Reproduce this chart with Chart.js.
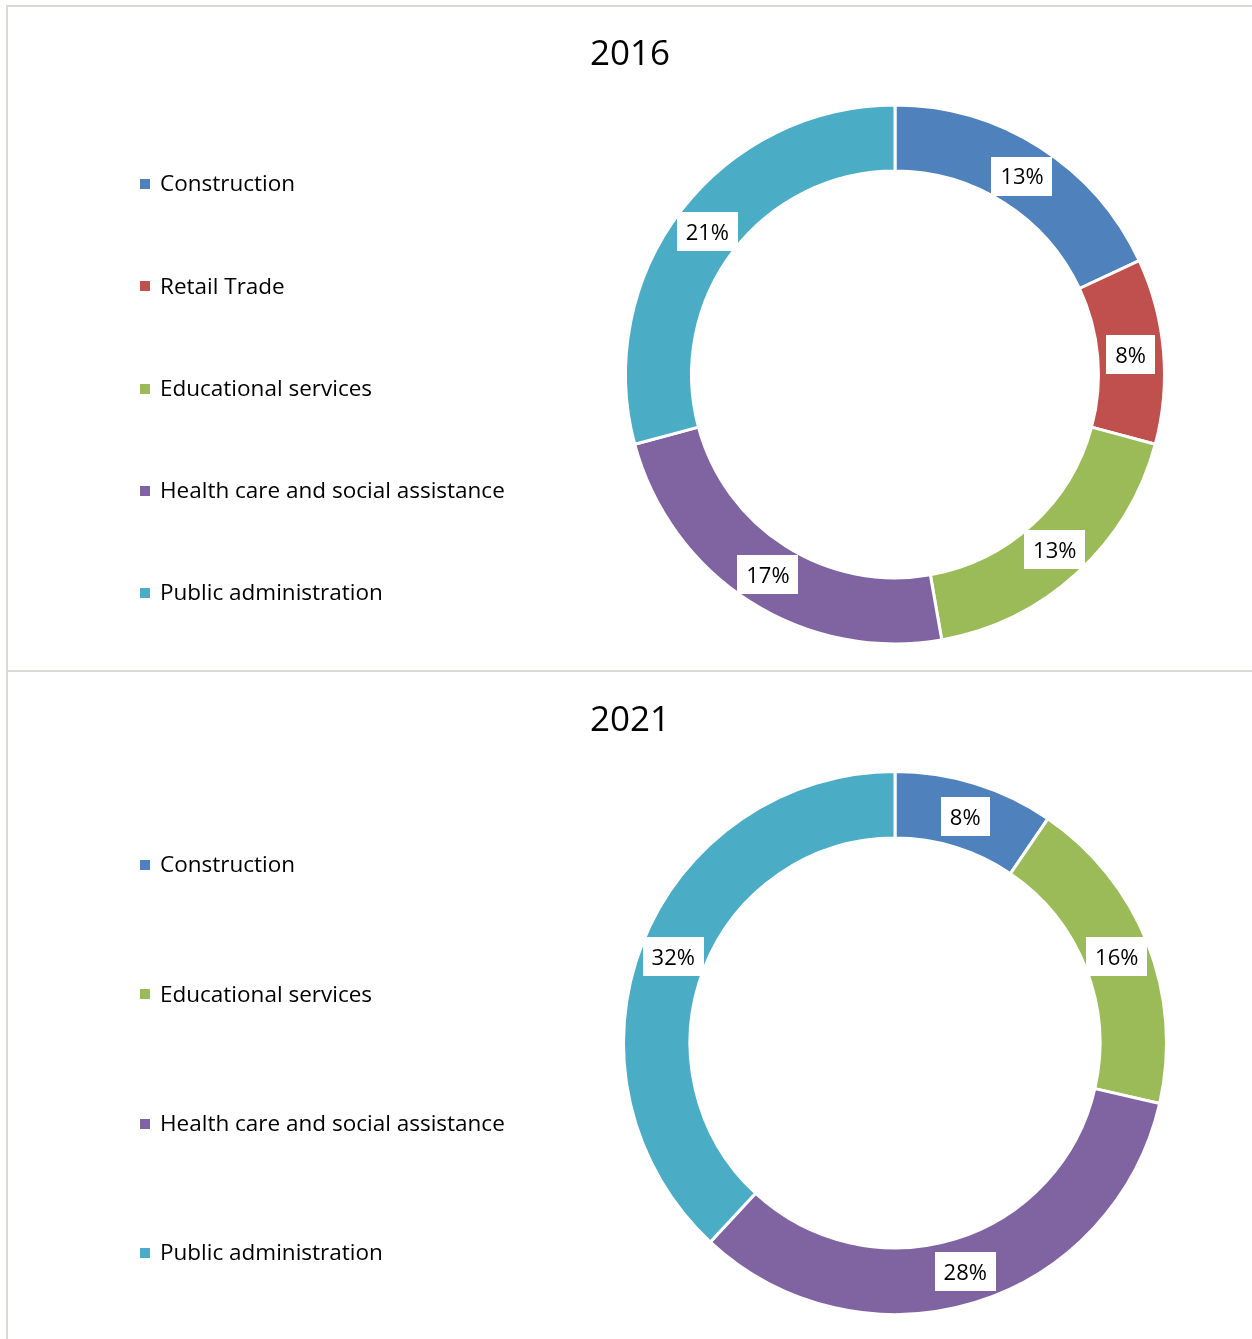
<!DOCTYPE html>
<html>
<head>
<meta charset="utf-8">
<script src="https://cdn.jsdelivr.net/npm/chart.js@4"></script>
<style>
  html, body { margin: 0; padding: 0; background: #fff; overflow: hidden; }
  body { width: 1252px; height: 1339px; position: relative; }
  .panel { position: absolute; left: 6px; box-sizing: border-box; border-left: 2px solid #dadad6; border-top: 2px solid #dadad6; background: #fff; }
  #p1 { top: 5px; width: 1246px; height: 665px; }
  #p2 { top: 670px; width: 1246px; height: 669px; }
  canvas { display: block; }
</style>
</head>
<body>
<div class="panel" id="p1"><canvas id="c1" width="1244" height="663"></canvas></div>
<div class="panel" id="p2"><canvas id="c2" width="1244" height="667"></canvas></div>
<script>
// ---- data ----
const title2016 = '2016';
const categories2016 = ['Construction', 'Retail Trade', 'Educational services', 'Health care and social assistance', 'Public administration'];
const share2016 = [13, 8, 13, 17, 21];

const title2021 = '2021';
const categories2021 = ['Construction', 'Educational services', 'Health care and social assistance', 'Public administration'];
const share2021 = [8, 16, 28, 32];

const categoryColors = {
  'Construction': '#4F81BD',
  'Retail Trade': '#C0504D',
  'Educational services': '#9BBB59',
  'Health care and social assistance': '#8064A2',
  'Public administration': '#4BACC6'
};

const FONT = '"Open Sans", "Noto Sans", sans-serif';

// ---- plugins ----
const panelDecor = {
  id: 'panelDecor',
  afterDraw(chart, args, opts) {
    const ctx = chart.ctx;
    ctx.save();
    // title
    ctx.fillStyle = '#000';
    ctx.font = opts.titleSize + 'px ' + FONT;
    ctx.textAlign = 'center';
    ctx.textBaseline = 'middle';
    ctx.fillText(opts.title, chart.width / 2, opts.titleY);
    // legend
    const labels = chart.data.labels;
    const colors = chart.data.datasets[0].backgroundColor;
    const n = labels.length;
    const step = (opts.legendBottom - opts.legendTop) / (n - 1);
    ctx.font = opts.legendSize + 'px ' + FONT;
    ctx.textAlign = 'left';
    ctx.textBaseline = 'middle';
    for (let i = 0; i < n; i++) {
      const y = opts.legendTop + i * step;
      ctx.fillStyle = colors[i];
      ctx.fillRect(opts.legendX, Math.round(y - 5), 10, 10);
      ctx.fillStyle = '#000';
      ctx.fillText(labels[i], opts.legendX + 20, y + 1);
    }
    ctx.restore();
  }
};

const arcLabels = {
  id: 'arcLabels',
  afterDatasetsDraw(chart) {
    const ctx = chart.ctx;
    const meta = chart.getDatasetMeta(0);
    const ds = chart.data.datasets[0];
    ctx.save();
    ctx.font = '22px ' + FONT;
    ctx.textAlign = 'center';
    ctx.textBaseline = 'middle';
    meta.data.forEach((arc, i) => {
      const p = arc.getProps(['x', 'y', 'startAngle', 'endAngle', 'innerRadius', 'outerRadius'], true);
      const a = (p.startAngle + p.endAngle) / 2;
      const r = (p.innerRadius + p.outerRadius) / 2;
      const cx = p.x + Math.cos(a) * r;
      const cy = p.y + Math.sin(a) * r + 1;
      const text = ds.data[i] + '%';
      const w = ctx.measureText(text).width + 18;
      const h = 39;
      ctx.fillStyle = '#fff';
      ctx.fillRect(Math.round(cx - w / 2), Math.round(cy - h / 2), Math.round(w), h);
      ctx.fillStyle = '#000';
      ctx.fillText(text, cx, cy + 2);
    });
    ctx.restore();
  }
};

function makeChart(id, title, labels, values, radius, cutout, pad, decor) {
  return new Chart(document.getElementById(id), {
    type: 'doughnut',
    data: {
      labels: labels,
      datasets: [{
        data: values,
        backgroundColor: labels.map(l => categoryColors[l]),
        borderColor: '#ffffff',
        borderWidth: 3
      }]
    },
    options: {
      responsive: false,
      animation: false,
      devicePixelRatio: 1,
      radius: radius,
      cutout: cutout,
      layout: { padding: pad },
      plugins: {
        legend: { display: false },
        title: { display: false },
        tooltip: { enabled: false },
        panelDecor: Object.assign({ title: title }, decor)
      }
    },
    plugins: [arcLabels, panelDecor]
  });
}

makeChart('c1', title2016, categories2016, share2016, 269.5, '75.5%',
  { left: 530, right: 0, top: 76, bottom: 4 },
  { titleSize: 35, titleY: 48, legendSize: 22.5, legendX: 132, legendTop: 177, legendBottom: 586 });

makeChart('c2', title2021, categories2021, share2021, 271.5, '75.5%',
  { left: 530, right: 0, top: 76, bottom: 1 },
  { titleSize: 35, titleY: 49, legendSize: 22.5, legendX: 132, legendTop: 193, legendBottom: 581 });
</script>
</body>
</html>
